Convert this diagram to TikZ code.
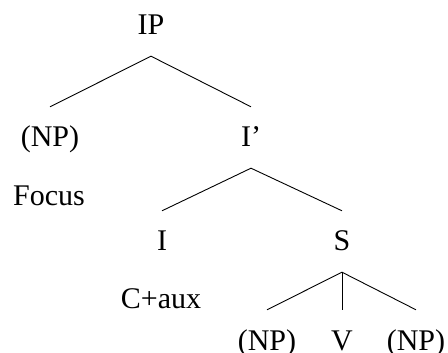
\documentclass[tikz,border=0pt]{standalone}
\usepackage{fontspec}
\setmainfont{Liberation Serif}
\usepackage{tikz}

\begin{document}
\begin{tikzpicture}[x = 1pt, y = -1pt,
	every node/.style = {font = \fontsize{30pt}{36pt}\selectfont, anchor = base},
	cat/.style = {inner sep = 0pt, text height = 40pt, text depth = 21pt},
	branch/.style = {line width = 0.9pt}]
\useasboundingbox (0,0) rectangle (448,353);
\node[cat] (ip) at (151,35) {IP};
\node[cat] (np) at (50,147) {(NP)};
\node[cat] (ibar) at (251,147) {I’};
\node (focus) at (49,205) {Focus};
\node[cat] (i) at (162,251) {I};
\node[cat] (s) at (342,251) {S};
\node (caux) at (161,308) {C+aux};
\node[cat] (npa) at (267,350) {(NP)};
\node[cat] (v) at (342,350) {V};
\node[cat] (npb) at (416,350) {(NP)};
\draw[branch] (np.north) -- (ip.south) -- (ibar.north);
\draw[branch] (i.north) -- (ibar.south) -- (s.north);
\draw[branch] (npa.north) -- (s.south) -- (npb.north);
\draw[branch] (s.south) -- (v.north);
\end{tikzpicture}
\end{document}
